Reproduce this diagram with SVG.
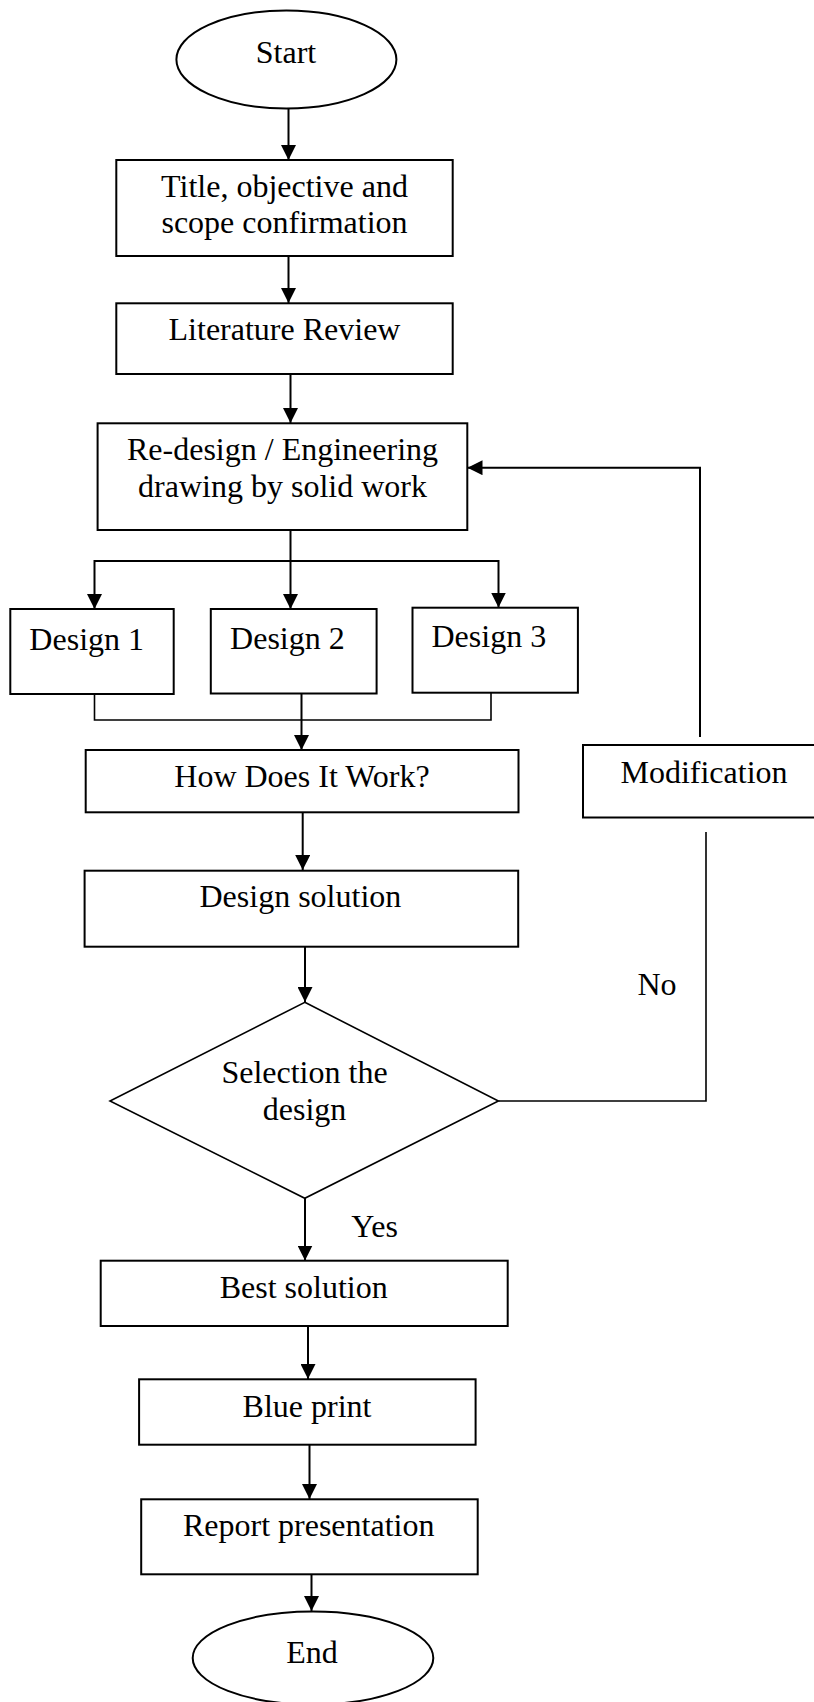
<svg xmlns="http://www.w3.org/2000/svg" width="814" height="1702" viewBox="0 0 814 1702">
<style>
.box{fill:#fff;stroke:#000;stroke-width:2}
.thin{fill:#fff;stroke:#000;stroke-width:1.6}
.t{font-family:"Liberation Serif","Times New Roman",serif;font-size:32px;fill:#000;text-anchor:middle}
.c{fill:none;stroke:#000;stroke-width:2}
.m{fill:none;stroke:#000;stroke-width:1.6}
</style>
<defs>
<marker id="ah" markerUnits="userSpaceOnUse" markerWidth="15" markerHeight="15" refX="15" refY="7.5" orient="auto">
<path d="M0,0 L15,7.5 L0,15 z" fill="#000"/>
</marker>
</defs>
<rect width="814" height="1702" fill="#fff"/>
<g id="connectors">
<line class="c" x1="288.5" y1="108.5" x2="288.5" y2="160" marker-end="url(#ah)"/>
<line class="c" x1="288.5" y1="256" x2="288.5" y2="303" marker-end="url(#ah)"/>
<line class="c" x1="290.5" y1="374" x2="290.5" y2="423" marker-end="url(#ah)"/>
<line class="c" x1="290.5" y1="530" x2="290.5" y2="609" marker-end="url(#ah)"/>
<line class="c" x1="94.5" y1="561" x2="498.5" y2="561"/>
<line class="c" x1="94.5" y1="560" x2="94.5" y2="609" marker-end="url(#ah)"/>
<line class="c" x1="498.5" y1="560" x2="498.5" y2="607.5" marker-end="url(#ah)"/>
<polyline class="m" points="94.5,692 94.5,720 491,720 491,693"/>
<line class="c" x1="301.5" y1="689" x2="301.5" y2="750" marker-end="url(#ah)"/>
<line class="c" x1="302.7" y1="810" x2="302.7" y2="870" marker-end="url(#ah)"/>
<line class="c" x1="305" y1="945" x2="305" y2="1002" marker-end="url(#ah)"/>
<line class="c" x1="305" y1="1198" x2="305" y2="1260.5" marker-end="url(#ah)"/>
<line class="c" x1="308" y1="1323" x2="308" y2="1379" marker-end="url(#ah)"/>
<line class="c" x1="309.5" y1="1442" x2="309.5" y2="1499" marker-end="url(#ah)"/>
<line class="c" x1="311.5" y1="1570" x2="311.5" y2="1611" marker-end="url(#ah)"/>
<polyline class="m" points="498.4,1101 706,1101 706,832"/>
<polyline class="c" points="700,737 700,467.7 467.5,467.7" marker-end="url(#ah)"/>
<text class="t" x="657" y="995">No</text>
<text class="t" x="374.6" y="1237">Yes</text>
</g>
<g id="start"><ellipse class="box" cx="286.4" cy="59.5" rx="110" ry="49"/><text class="t" x="286" y="63">Start</text></g>
<g id="title"><rect class="box" x="116.3" y="160" width="336.4" height="96"/><text class="t" x="284.5" y="197">Title, objective and</text><text class="t" x="284.5" y="233">scope confirmation</text></g>
<g id="literature"><rect class="box" x="116.3" y="303.3" width="336.4" height="70.7"/><text class="t" x="284.5" y="340">Literature Review</text></g>
<g id="redesign"><rect class="box" x="97.6" y="423.3" width="369.7" height="106.7"/><text class="t" x="282.5" y="460">Re-design / Engineering</text><text class="t" x="282.5" y="497">drawing by solid work</text></g>
<g id="design1"><rect class="box" x="10.3" y="609" width="163.4" height="85"/><text class="t" x="86.7" y="650">Design 1</text></g>
<g id="design2"><rect class="box" x="210.8" y="609" width="165.8" height="84.5"/><text class="t" x="287.4" y="649">Design 2</text></g>
<g id="design3"><rect class="box" x="412.5" y="607.7" width="165.4" height="85"/><text class="t" x="488.8" y="647">Design 3</text></g>
<g id="how"><rect class="box" x="85.7" y="750" width="432.8" height="62.3"/><text class="t" x="302" y="787">How Does It Work?</text></g>
<g id="modification"><rect class="box" x="583" y="745" width="240" height="72.5"/><text class="t" x="704" y="783">Modification</text></g>
<g id="designsolution"><rect class="box" x="84.6" y="870.7" width="433.6" height="76"/><text class="t" x="300.4" y="907">Design solution</text></g>
<g id="selection"><polygon class="thin" points="304.8,1002.3 498.4,1101 304.8,1198.3 110,1101"/><text class="t" x="304.5" y="1083">Selection the</text><text class="t" x="304.5" y="1120">design</text></g>
<g id="best"><rect class="box" x="100.7" y="1260.7" width="407" height="65.3"/><text class="t" x="303.7" y="1298">Best solution</text></g>
<g id="blueprint"><rect class="box" x="139.1" y="1379.3" width="336.5" height="65.4"/><text class="t" x="307" y="1417">Blue print</text></g>
<g id="report"><rect class="box" x="141.2" y="1499.3" width="336.5" height="75"/><text class="t" x="308.7" y="1536">Report presentation</text></g>
<g id="end"><ellipse class="box" cx="313" cy="1658" rx="120.3" ry="46.5"/><text class="t" x="312" y="1663">End</text></g>
</svg>
